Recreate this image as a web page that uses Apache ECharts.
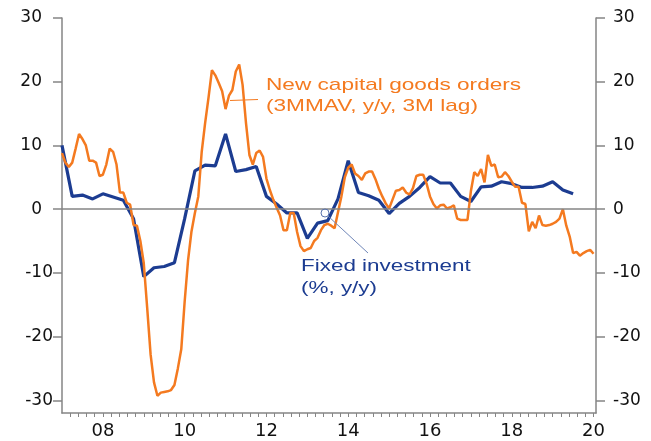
<!DOCTYPE html>
<html>
<head>
<meta charset="utf-8">
<script src="https://cdn.jsdelivr.net/npm/echarts@6/dist/echarts.min.js"></script>
<style>
  html, body { margin: 0; padding: 0; background: #fff; }
  #chart { width: 651px; height: 441px; }
</style>
</head>
<body>
<div id="chart"></div>
<script>
// monthly, Jan 2007 .. Jan 2020 (3MMAV, y/y, 3M lag)
var capitalGoodsOrders = [
  8.8, 7.3, 6.6, 7.3, 9.5, 11.8, 11.0, 10.0, 7.6, 7.6, 7.3, 5.2,
  5.4, 7.0, 9.5, 9.0, 7.0, 2.6, 2.6, 1.0, 0.7, -2.5, -2.6, -5.0,
  -8.5, -15.5, -22.8, -27.2, -29.3, -28.8, -28.7, -28.6, -28.4, -27.6, -25.0, -22.0,
  -14.5, -8.0, -3.5, -0.6, 2.0, 9.0, 13.5, 17.5, 21.8, 21.0, 19.8, 18.5,
  15.7, 17.8, 18.7, 21.6, 22.7, 19.5, 13.5, 8.5, 7.0, 8.8, 9.2, 8.2,
  4.8, 3.0, 1.5, 0.2, -1.0, -3.3, -3.3, -0.6, -0.6, -3.6, -5.8, -6.6,
  -6.3, -6.1, -5.0, -4.5, -3.3, -2.5, -2.3, -2.6, -3.0, -0.5, 2.0, 5.0,
  6.5, 7.0, 5.6, 5.2, 4.6, 5.6, 5.9, 5.9, 4.7, 3.2, 2.0, 0.9,
  0.1, 1.5, 2.9, 3.0, 3.4, 2.6, 2.3, 3.3, 5.2, 5.4, 5.4, 4.0,
  2.0, 0.8, 0.1, 0.6, 0.7, 0.1, 0.3, 0.6, -1.5, -1.7, -1.7, -1.7,
  2.8, 5.8, 5.2, 6.3, 4.2, 8.5, 6.8, 7.0, 5.0, 5.1, 5.8, 5.2,
  4.3, 3.5, 3.5, 1.0, 0.8, -3.5, -2.0, -3.0, -1.0, -2.5, -2.6, -2.5,
  -2.3, -2.0, -1.5, 0.0, -2.6, -4.3, -6.9, -6.7, -7.3, -6.9, -6.6, -6.4,
  -7.0
];

// quarterly, Q1 2007 .. Q3 2019 (%, y/y)
var fixedInvestment = [
  10.0, 2.0, 2.2, 1.6,
  2.4, 1.9, 1.4, -1.5,
  -10.6, -9.2, -9.0, -8.4,
  -1.5, 6.0, 6.9, 6.8,
  11.8, 5.9, 6.2, 6.7,
  2.0, 0.8, -0.6, -0.6,
  -4.6, -2.2, -1.8, 1.6,
  7.6, 2.6, 2.1, 1.4,
  -0.7, 0.9, 2.0, 3.4,
  5.1, 4.1, 4.1, 2.0,
  1.2, 3.5, 3.6, 4.3,
  4.0, 3.4, 3.4, 3.6,
  4.3, 3.0, 2.4
];

var yTicks = [-30, -20, -10, 0, 10, 20, 30];
var yearTicks = [2008, 2010, 2012, 2014, 2016, 2018, 2020];

// small ticks every 0.2 year
var xTicks = [];
for (var k = 1; k <= 65; k++) xTicks.push(2007 + k * 0.2);

var ordersData = capitalGoodsOrders.map(function (v, i) { return [2007 + i / 12, v]; });
var investData = fixedInvestment.map(function (v, i) { return [2007 + i / 4, v]; });

var gray = '#858585';
var orange = '#F47A20';
var navy = '#1C3C91';
var tickFont = 'DejaVu Sans';
var noteFont = '17px "Liberation Sans", Arial, sans-serif';

function yLabel(v) {
  return v >= 0 ? '{p|' + v + '}' : '{n|' + v + '}';
}
var labelRich = {
  p: { fontFamily: tickFont, fontSize: 17, color: '#111', padding: [0, 11, 0, 0] },
  n: { fontFamily: tickFont, fontSize: 17, color: '#111' }
};

var myChart = echarts.init(document.getElementById('chart'));

var option = {
  animation: false,
  backgroundColor: '#fff',
  grid: { left: 62, right: 55, top: 18, bottom: 28 },
  xAxis: {
    type: 'value', min: 2007, max: 2020.06, position: 'bottom',
    axisLine: { show: true, onZero: false, lineStyle: { color: gray, width: 1.5 } },
    axisTick: { show: true, length: 4, customValues: xTicks, lineStyle: { color: gray } },
    axisLabel: {
      customValues: yearTicks, margin: 9,
      fontFamily: tickFont, fontSize: 18, color: '#111',
      formatter: function (v) { var y = Math.round(v) % 100; return (y < 10 ? '0' : '') + y; }
    },
    splitLine: { show: false }
  },
  yAxis: [
    {
      type: 'value', min: -32, max: 30, position: 'left',
      axisLine: { show: true, onZero: false, lineStyle: { color: gray, width: 1.5 } },
      axisTick: { show: true, length: 9, customValues: yTicks, lineStyle: { color: gray, width: 1.5 } },
      axisLabel: { customValues: yTicks, margin: 9, formatter: yLabel, rich: labelRich },
      splitLine: { show: false }
    },
    {
      type: 'value', min: -32, max: 30, position: 'right',
      axisLine: { show: true, onZero: false, lineStyle: { color: gray, width: 1.5 } },
      axisTick: { show: true, length: 9, customValues: yTicks, lineStyle: { color: gray, width: 1.5 } },
      axisLabel: { customValues: yTicks, margin: 17, fontFamily: tickFont, fontSize: 17, color: '#111' },
      splitLine: { show: false }
    }
  ],
  series: [
    {
      name: 'Fixed investment',
      type: 'line',
      data: investData,
      showSymbol: false,
      lineStyle: { color: navy, width: 3.2 },
      z: 2,
      markLine: {
        silent: true, symbol: 'none', label: { show: false },
        lineStyle: { color: gray, width: 1.5, type: 'solid' },
        data: [{ yAxis: 0 }]
      }
    },
    {
      name: 'New capital goods orders',
      type: 'line',
      data: ordersData,
      showSymbol: false,
      lineStyle: { color: orange, width: 2.5 },
      z: 3
    }
  ],
  graphic: [
    // hide the stray ticks drawn at the two ends of the x axis
    { type: 'rect', shape: { x: 58, y: 414.5, width: 7, height: 7 }, style: { fill: '#fff' }, z: 20 },
    { type: 'rect', shape: { x: 595, y: 414.5, width: 6, height: 7 }, style: { fill: '#fff' }, z: 20 },
    { type: 'line', shape: { x1: 230, y1: 100.5, x2: 258, y2: 99.5 }, style: { stroke: orange, lineWidth: 1 }, z: 10 },
    { type: 'text', x: 266, y: 85.5, scaleX: 1.33, style: { text: 'New capital goods orders', fill: orange, font: noteFont, textVerticalAlign: 'middle' }, z: 10 },
    { type: 'text', x: 266, y: 106, scaleX: 1.33, style: { text: '(3MMAV, y/y, 3M lag)', fill: orange, font: noteFont, textVerticalAlign: 'middle' }, z: 10 },
    { type: 'circle', shape: { cx: 325, cy: 213, r: 4 }, style: { fill: 'none', stroke: '#5B74AC', lineWidth: 1 }, z: 10 },
    { type: 'line', shape: { x1: 328, y1: 216, x2: 368, y2: 253 }, style: { stroke: '#6F86B8', lineWidth: 1 }, z: 10 },
    { type: 'text', x: 301, y: 266.5, scaleX: 1.32, style: { text: 'Fixed investment', fill: navy, font: noteFont, textVerticalAlign: 'middle' }, z: 10 },
    { type: 'text', x: 301, y: 288.5, scaleX: 1.32, style: { text: '(%, y/y)', fill: navy, font: noteFont, textVerticalAlign: 'middle' }, z: 10 }
  ]
};

myChart.setOption(option);
</script>
</body>
</html>
